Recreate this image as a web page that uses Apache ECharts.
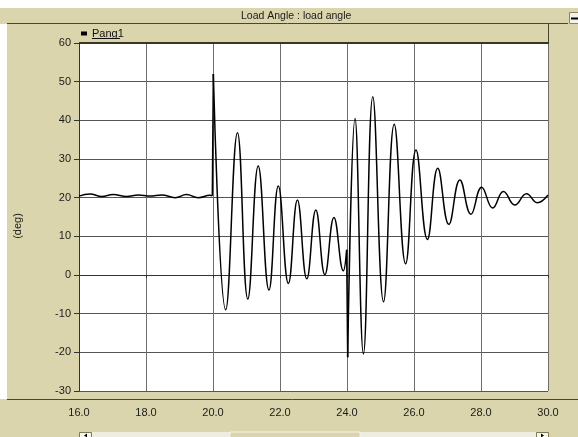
<!DOCTYPE html>
<html><head><meta charset="utf-8">
<script src="https://cdn.jsdelivr.net/npm/echarts@6/dist/echarts.min.js"></script>
<style>html,body{margin:0;padding:0;background:#fff}#c{width:578px;height:437px}</style>
</head><body><div id="c"></div>
<script>
// ---- data ----
const xTicks = [16, 18, 20, 22, 24, 26, 28, 30];
const yTicks = [-30, -20, -10, 0, 10, 20, 30, 40, 50, 60];

const preFaultTime  = [16.0, 16.33, 16.68, 17.02, 17.42, 17.77, 18.12, 18.47, 18.87, 19.21, 19.56, 19.91, 19.98];
const preFaultAngle = [20.4, 20.95, 20.3, 20.85, 20.3, 20.7, 20.4, 20.7, 20.0, 20.8, 20.0, 20.6, 20.5];

const faultTime  = [20.01, 20.38, 20.73, 21.04, 21.35, 21.67, 21.95, 22.25, 22.52, 22.80, 23.07, 23.34, 23.61, 23.89, 23.99];
const faultAngle = [52.0, -9.0, 36.8, -6.2, 28.2, -3.9, 23.0, -2.2, 19.4, -1.0, 16.8, 0.1, 14.9, 1.1, 6.5];

const postTime  = [24.02, 24.24, 24.49, 24.77, 25.09, 25.41, 25.75, 26.06, 26.40, 26.71, 27.04, 27.37, 27.70, 28.02, 28.35, 28.67, 29.01, 29.36, 29.68, 30.0];
const postAngle = [-21.3, 40.5, -20.4, 46.1, -6.9, 39.0, 2.9, 32.3, 9.2, 27.6, 13.1, 24.6, 15.7, 22.7, 17.3, 21.6, 18.1, 21.0, 18.7, 20.7];

const seriesName = 'Pang1';
const titleText = 'Load Angle : load angle';
const yName = '(deg)';

// ---- build ----
const zip = (t, v) => t.map((x, i) => [x, v[i]]);
const segs = [zip(preFaultTime, preFaultAngle), zip(faultTime, faultAngle), zip(postTime, postAngle)];
const joints = [];
for (let i = 0; i < segs.length - 1; i++) {
  joints.push([segs[i][segs[i].length - 1], segs[i + 1][0]]);
}
const lineStyle = { color: '#000', width: 1.5 };
const series = [];
segs.forEach(d => series.push({ name: seriesName, type: 'line', data: d, smooth: 0.45, showSymbol: false, lineStyle, itemStyle: { color: '#000' } }));
joints.forEach(d => series.push({ name: seriesName, type: 'line', data: d, smooth: false, showSymbol: false, lineStyle, itemStyle: { color: '#000' } }));

const BEIGE = '#DBD5AD';
const DARK = '#4a4630';
const font = 'Liberation Sans, Arial, sans-serif';

const chart = echarts.init(document.getElementById('c'), null, { renderer: 'canvas' });
chart.setOption({
  animation: false,
  backgroundColor: BEIGE,
  title: { text: titleText, left: 236, top: 6, textStyle: { fontSize: 10.5, fontWeight: 'normal', color: '#1a1a1a', fontFamily: font } },
  legend: {
    data: [{ name: seriesName, icon: 'rect' }], left: 81, top: 28, padding: 0, itemWidth: 6, itemHeight: 4,
    textStyle: { fontSize: 11, color: '#111', fontFamily: font }
  },
  grid: { left: 79, right: 30, top: 43, bottom: 46, show: true, backgroundColor: '#fff', borderWidth: 0 },
  xAxis: {
    type: 'value', min: xTicks[0], max: xTicks[xTicks.length - 1], interval: 2, offset: 11,
    axisLine: { show: true, lineStyle: { color: '#333', width: 1 } },
    axisTick: { show: true, length: 3, lineStyle: { color: '#333' } },
    axisLabel: { margin: 5, fontSize: 11, color: '#1a1a1a', fontFamily: font, formatter: v => v.toFixed(1) },
    splitLine: { show: true, lineStyle: { color: '#6e6e6e', width: 1 } }
  },
  yAxis: {
    type: 'value', min: yTicks[0], max: yTicks[yTicks.length - 1], interval: 10,
    axisLine: { show: true, lineStyle: { color: '#333', width: 1 } },
    axisTick: { show: true, length: 5, lineStyle: { color: '#333' } },
    axisLabel: { margin: 8, fontSize: 11, color: '#1a1a1a', fontFamily: font },
    splitLine: { show: true, lineStyle: { color: '#555', width: 1 } }
  },
  series,
  graphic: [
    { type: 'rect', shape: { x: 0, y: 0, width: 578, height: 8 }, style: { fill: '#fff' }, z: 100 },
    { type: 'rect', shape: { x: 0, y: 24, width: 7, height: 375 }, style: { fill: '#fff' }, z: 100 },
    { type: 'line', shape: { x1: 7, y1: 23.5, x2: 568, y2: 23.5 }, style: { stroke: DARK, lineWidth: 1 }, z: 100 },
    { type: 'rect', shape: { x: 569.5, y: 12.5, width: 9, height: 11 }, style: { fill: '#f4f2e8', stroke: '#8a8560' }, z: 100 },
    { type: 'line', shape: { x1: 571, y1: 18.5, x2: 578, y2: 18.5 }, style: { stroke: '#000', lineWidth: 2 }, z: 101 },
    { type: 'line', shape: { x1: 548.5, y1: 24, x2: 548.5, y2: 43 }, style: { stroke: DARK, lineWidth: 1 }, z: 100 },
    { type: 'line', shape: { x1: 79, y1: 43, x2: 549, y2: 43 }, style: { stroke: '#3a3620', lineWidth: 2 }, z: 100 },
    { type: 'line', shape: { x1: 7, y1: 399.5, x2: 578, y2: 399.5 }, style: { stroke: DARK, lineWidth: 1 }, z: 100 },
    { type: 'line', shape: { x1: 92, y1: 38.5, x2: 120, y2: 38.5 }, style: { stroke: '#111', lineWidth: 1 }, z: 100 },
    { type: 'text', x: 18, y: 226, rotation: Math.PI / 2, style: { text: yName, font: '11px ' + font, fill: '#1a1a1a', textAlign: 'center', textVerticalAlign: 'middle' }, z: 100 },
    // scrollbar
    { type: 'rect', shape: { x: 91, y: 432, width: 445, height: 6 }, style: { fill: '#efece0' }, z: 100 },
    { type: 'rect', shape: { x: 230, y: 432, width: 130, height: 6 }, style: { fill: BEIGE, stroke: '#f6f4ea', lineWidth: 1 }, z: 101 },
    { type: 'rect', shape: { x: 79.5, y: 432.5, width: 12, height: 6 }, style: { fill: '#f6f5ee', stroke: '#7d7858' }, z: 101 },
    { type: 'rect', shape: { x: 536.5, y: 432.5, width: 12, height: 6 }, style: { fill: '#f6f5ee', stroke: '#7d7858' }, z: 101 },
    { type: 'polygon', shape: { points: [[84, 435.5], [87, 433.5], [87, 437.5]] }, style: { fill: '#000' }, z: 102 },
    { type: 'polygon', shape: { points: [[544, 435.5], [541, 433.5], [541, 437.5]] }, style: { fill: '#000' }, z: 102 }
  ]
});
</script></body></html>
